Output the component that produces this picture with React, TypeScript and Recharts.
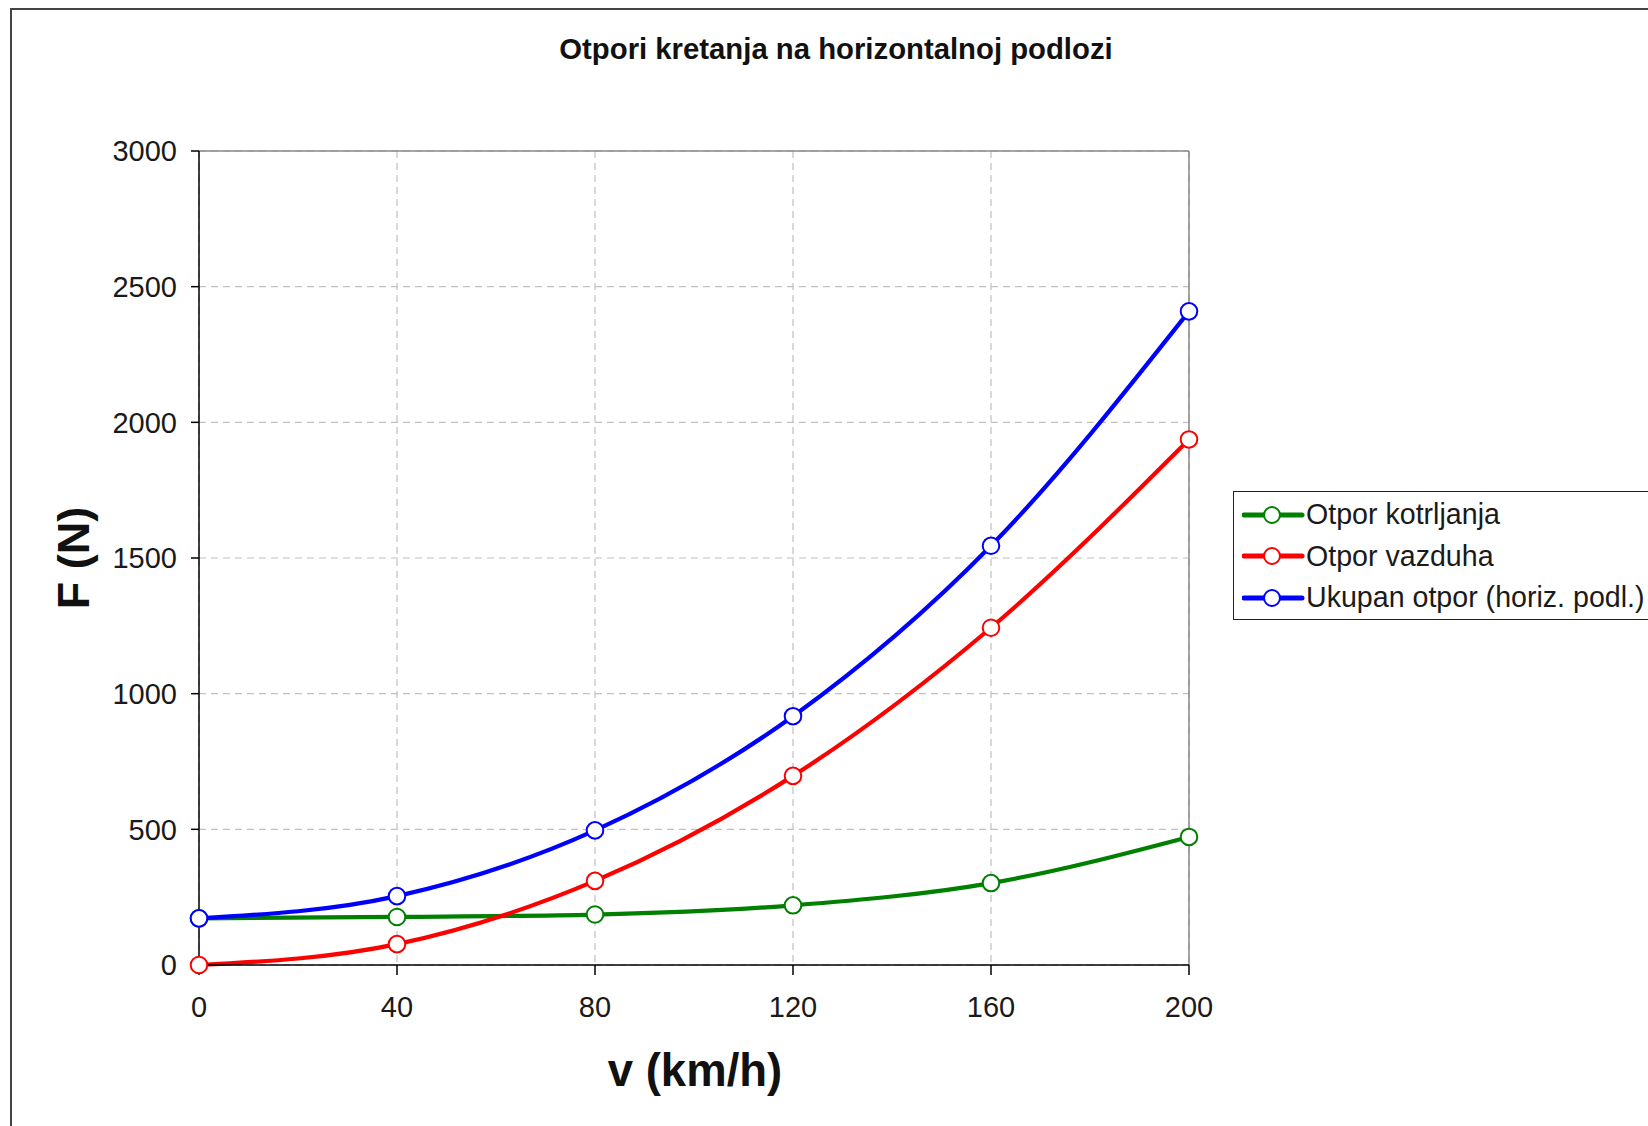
import { LineChart, Line, XAxis, YAxis, CartesianGrid, Legend, ReferenceLine } from 'recharts'

const speeds = [0, 40, 80, 120, 160, 200]
const kotrljanja = [172, 177, 186, 220, 302, 472]
const vazduha = [0, 77, 310, 697, 1243, 1937]
const ukupan = [172, 254, 496, 917, 1545, 2409]
const yTicks = [0, 500, 1000, 1500, 2000, 2500, 3000]
const xTicks = [0, 40, 80, 120, 160, 200]

const seriesNames = ['Otpor kotrljanja', 'Otpor vazduha', 'Ukupan otpor (horiz. podl.)']
const seriesColors = ['#008000', '#ff0000', '#0000ff']

const data = speeds.map((v, i) => ({
  v,
  kotrljanja: kotrljanja[i],
  vazduha: vazduha[i],
  ukupan: ukupan[i],
}))

const FONT = '"Liberation Sans", Arial, sans-serif'

function LegendBox({ payload }: any) {
  return (
    <div
      style={{
        border: '1.5px solid #222',
        background: '#fff',
        padding: '2px 0 0 8px',
        width: 440,
        boxSizing: 'border-box',
        fontFamily: FONT,
      }}
    >
      {(payload || []).map((p: any) => (
        <div key={p.value} style={{ display: 'flex', alignItems: 'center', height: 41.5 }}>
          <svg width={64} height={24} style={{ flex: 'none' }}>
            <line x1={2} y1={12} x2={60} y2={12} stroke={p.color} strokeWidth={5} strokeLinecap="round" />
            <circle cx={30} cy={12} r={8} fill="#fff" stroke={p.color} strokeWidth={2} />
          </svg>
          <span style={{ fontSize: 28.6, color: '#1a1a1a', whiteSpace: 'nowrap' }}>{p.value}</span>
        </div>
      ))}
    </div>
  )
}

export default function App() {
  const keys = ['kotrljanja', 'vazduha', 'ukupan']
  return (
    <div
      style={{
        position: 'absolute',
        left: 0,
        top: 0,
        width: 1648,
        height: 1126,
        overflow: 'hidden',
        background: '#fff',
        fontFamily: FONT,
      }}
    >
      <div
        style={{
          position: 'absolute',
          left: 10,
          top: 8,
          width: 1700,
          height: 1200,
          border: '2px solid #444',
        }}
      />
      <div
        style={{
          position: 'absolute',
          left: 0,
          width: 1672,
          top: 32,
          textAlign: 'center',
          fontSize: 29.3,
          fontWeight: 'bold',
          color: '#111',
        }}
      >
        Otpori kretanja na horizontalnoj podlozi
      </div>
      <div style={{ position: 'absolute', left: 0, top: 0 }}>
        <LineChart
          width={1648}
          height={1126}
          data={data}
          margin={{ top: 151, right: 459, bottom: 101, left: 99 }}
        >
          <CartesianGrid stroke="#c0c0c0" strokeDasharray="7 5" strokeWidth={1.2} />
          <ReferenceLine y={3000} stroke="#888" strokeWidth={1.5} />
          <ReferenceLine x={200} stroke="#888" strokeWidth={1.5} />
          <XAxis
            dataKey="v"
            type="number"
            domain={[0, 200]}
            ticks={xTicks}
            height={60}
            stroke="#000"
            strokeWidth={1.5}
            tickSize={10}
            tickMargin={21}
            tick={{ fontSize: 29, fill: '#1a1a1a', fontFamily: FONT }}
            label={({ viewBox }: any) => (
              <text
                x={viewBox.x + viewBox.width / 2 + 1}
                y={viewBox.y + 121}
                textAnchor="middle"
                fontSize={45.5}
                fontWeight="bold"
                fontFamily={FONT}
                fill="#111"
              >
                v (km/h)
              </text>
            )}
          />
          <YAxis
            type="number"
            domain={[0, 3000]}
            ticks={yTicks}
            width={100}
            stroke="#000"
            strokeWidth={1.5}
            tickSize={8}
            tickMargin={14}
            tick={{ fontSize: 29, fill: '#1a1a1a', fontFamily: FONT }}
            label={({ viewBox }: any) => {
              const cx = viewBox.x + viewBox.width - 126
              const cy = viewBox.y + viewBox.height / 2
              return (
                <text
                  x={cx}
                  y={cy}
                  transform={`rotate(-90 ${cx} ${cy})`}
                  textAnchor="middle"
                  dominantBaseline="central"
                  fontSize={45}
                  fontWeight="bold"
                  fontFamily={FONT}
                  fill="#111"
                >
                  F (N)
                </text>
              )
            }}
          />
          <Legend
            layout="vertical"
            align="center"
            verticalAlign="middle"
            content={LegendBox}
            wrapperStyle={{ left: 1233, top: 491, right: 'auto', width: 440 }}
          />
          {keys.map((k, i) => (
            <Line
              key={k}
              dataKey={k}
              name={seriesNames[i]}
              type="monotone"
              stroke={seriesColors[i]}
              strokeWidth={4.2}
              dot={{ r: 8.3, fill: '#fff', stroke: seriesColors[i], strokeWidth: 2 }}
              activeDot={false}
              isAnimationActive={false}
            />
          ))}
        </LineChart>
      </div>
    </div>
  )
}
